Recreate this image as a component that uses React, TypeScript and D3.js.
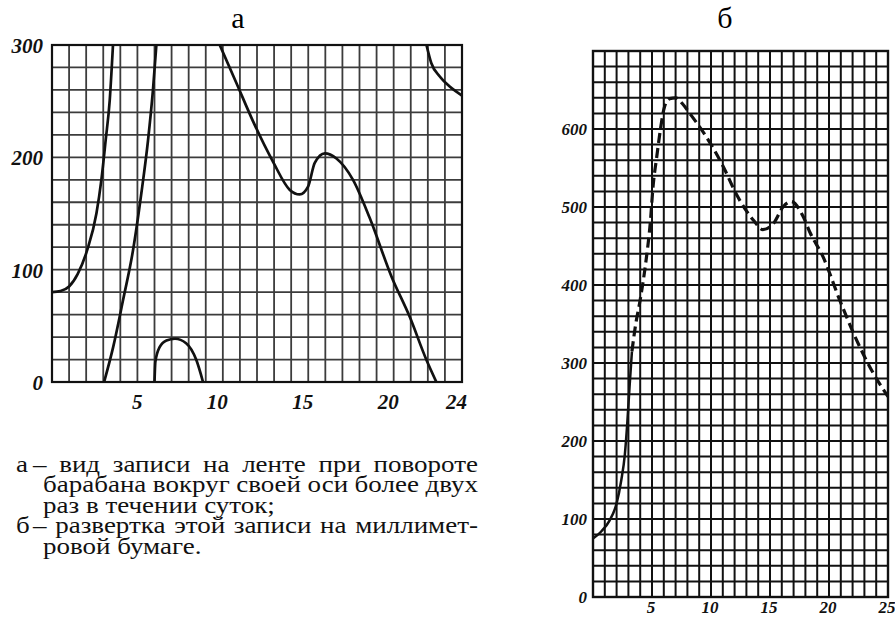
import React, { useMemo } from 'react';
import * as d3 from 'd3';

// а: запись на ленте (значения по модулю 300), отдельные куски линии
const tapePart1 = [[0, 80], [0.5, 81], [1, 85], [1.5, 96], [2.05, 117], [2.6, 150], [2.89, 180], [3.14, 215], [3.38, 251], [3.57, 300]];
const tapePart2 = [[3.05, 0], [3.58, 31], [4.16, 73], [4.74, 117], [5.23, 168], [5.62, 215], [5.91, 260], [6.11, 300]];
const tapePart3 = [[6.0, 0], [6.05, 18], [6.3, 31], [6.7, 37], [7.2, 38.5], [7.85, 34.5], [8.45, 19.5], [8.84, 0]];
const tapePart4 = [[9.82, 300], [10.8, 266], [11.77, 232], [12.94, 196], [13.92, 171], [14.5, 167], [14.99, 174], [15.38, 195], [15.97, 203.5], [16.65, 199], [17.62, 180], [18.6, 146], [19.87, 94], [20.94, 58], [21.92, 19.6], [22.5, 0]];
const tapePart5 = [[21.92, 300], [22.2, 284], [22.7, 272], [23.28, 263], [24, 255]];
const tapeParts = [tapePart1, tapePart2, tapePart3, tapePart4, tapePart5];

// б: развертка на миллиметровой бумаге
const sweepHours = [0, 0.7, 1.4, 2, 2.4, 2.7, 2.9, 3.1, 3.3, 3.6, 4, 4.5, 4.85, 5.1, 5.4, 5.7, 6.05, 6.5, 7, 7.6, 8.2, 9.6, 11, 12.2, 13.6, 14.4, 15.3, 16.1, 16.8, 17.8, 18.4, 19.5, 20.9, 22.35, 23.75, 25];
const sweepValues = [75, 84, 98, 120, 150, 183, 222, 270, 315, 348, 381, 432, 479, 528, 564, 598, 628, 639, 640, 632, 620, 590, 553, 515, 483, 471, 479, 500, 507, 488, 467, 436, 381, 329, 287, 257];
const solidUntil = 3.3;

const tapeXTicks = [5, 10, 15, 20, 24];
const tapeYTicks = [0, 100, 200, 300];
const sweepXTicks = [5, 10, 15, 20, 25];
const sweepYTicks = [0, 100, 200, 300, 400, 500, 600];

const captionA = ['– вид записи на ленте при повороте', 'барабана вокруг своей оси более двух', 'раз в течении суток;'];
const captionB = ['– развертка этой записи на миллимет-', 'ровой бумаге.'];

const SERIF = "'Liberation Serif'";
const CAP_SIZE = 27;
const CAP_SQUASH = 0.88;

const xA = d3.scaleLinear().domain([0, 24]).range([52, 462]);
const yA = d3.scaleLinear().domain([0, 300]).range([382, 45]);
const xB = d3.scaleLinear().domain([0, 25]).range([593, 888]);
const yB = d3.scaleLinear().domain([0, 700]).range([597, 51]);

const Panel = ({ x, y, xGrid, yGrid, gridColor, gridWidth, labelSize, xTicks, yTicks, xLabelY, yLabelX, xAnchor, xDx, yDy, clipId, children }) => {
  const [x0, x1] = x.range();
  const [y0, y1] = y.range();
  const lab = { fontFamily: SERIF, fontWeight: 'bold', fontStyle: 'italic', fontSize: labelSize };
  return (
    <g>
      <clipPath id={clipId}><rect x={x0} y={y1} width={x1 - x0} height={y0 - y1} /></clipPath>
      {xGrid.map(d => <line key={'v' + d} x1={x(d)} x2={x(d)} y1={y0} y2={y1} stroke={gridColor} strokeWidth={gridWidth} />)}
      {yGrid.map(d => <line key={'h' + d} x1={x0} x2={x1} y1={y(d)} y2={y(d)} stroke={gridColor} strokeWidth={gridWidth} />)}
      <rect x={x0} y={y1} width={x1 - x0} height={y0 - y1} fill="none" stroke="#111" strokeWidth={gridWidth + 0.4} />
      {xTicks.map(d => <text key={'xl' + d} x={x(d) + xDx} y={xLabelY} textAnchor={xAnchor} fill="#111" style={lab}>{d}</text>)}
      {yTicks.map(d => <text key={'yl' + d} x={yLabelX} y={y(d) + yDy} textAnchor="end" fill="#111" style={lab}>{d}</text>)}
      <g clipPath={`url(#${clipId})`}>{children}</g>
    </g>
  );
};

const App = () => {
  const lineA = d3.line().x(d => xA(d[0])).y(d => yA(d[1])).curve(d3.curveMonotoneX);
  const lineB = d3.line().x(d => xB(d[0])).y(d => yB(d[1])).curve(d3.curveMonotoneX);
  const sweep = sweepHours.map((h, i) => [h, sweepValues[i]]);
  const solid = sweep.filter(d => d[0] <= solidUntil);
  const dashed = sweep.filter(d => d[0] >= solid[solid.length - 1][0]);

  // caption layout: justified lines measured on a canvas
  const captionWords = useMemo(() => {
    const ctx = document.createElement('canvas').getContext('2d');
    ctx.font = `${CAP_SIZE}px ${SERIF}`;
    const space = ctx.measureText(' ').width;
    const rightEdge = 478;
    const firstBase = 472;
    const step = 20.4;
    const out = [];
    let row = 0;
    [{ mark: 'а', lines: captionA }, { mark: 'б', lines: captionB }].forEach(b => {
      out.push({ t: b.mark, x: 16, y: firstBase + row * step });
      b.lines.forEach((l, i) => {
        const words = l.split(' ');
        const widths = words.map(w => ctx.measureText(w).width);
        const xStart = i === 0 ? 33 : 43;
        const last = i === b.lines.length - 1;
        const gap = last ? space : (rightEdge - xStart - d3.sum(widths)) / (words.length - 1);
        let cx = xStart;
        words.forEach((w, k) => { out.push({ t: w, x: cx, y: firstBase + row * step }); cx += widths[k] + gap; });
        row += 1;
      });
    });
    return out;
  }, []);

  return (
    <svg width={895} height={617} style={{ position: 'absolute', left: 0, top: 0, background: '#fff' }}>
      <Panel x={xA} y={yA} xGrid={d3.range(0, 25)} yGrid={d3.range(0, 301, 20)}
        gridColor="#3c3c3c" gridWidth={1.8} labelSize={21}
        xTicks={tapeXTicks} yTicks={tapeYTicks} xLabelY={409} yLabelX={43}
        xAnchor="end" xDx={5} yDy={8} clipId="clipA">
        {tapeParts.map((p, i) => <path key={i} d={lineA(p)} fill="none" stroke="#111" strokeWidth={2.7} />)}
      </Panel>

      <Panel x={xB} y={yB} xGrid={d3.range(0, 26)} yGrid={d3.range(0, 701, 20)}
        gridColor="#111" gridWidth={2} labelSize={17}
        xTicks={sweepXTicks} yTicks={sweepYTicks} xLabelY={613} yLabelX={587}
        xAnchor="middle" xDx={-1} yDy={6} clipId="clipB">
        <path d={lineB(solid)} fill="none" stroke="#111" strokeWidth={2.5} />
        <path d={lineB(dashed)} fill="none" stroke="#111" strokeWidth={3.2} strokeDasharray="10,5" />
      </Panel>

      <text x={238} y={28} textAnchor="middle" style={{ fontFamily: SERIF, fontSize: 30 }}>а</text>
      <text x={725} y={28} textAnchor="middle" style={{ fontFamily: SERIF, fontSize: 30 }}>б</text>

      <g fill="#111" style={{ fontFamily: SERIF, fontSize: CAP_SIZE }}>
        {captionWords.map((w, i) => (
          <text key={i} x={w.x} y={w.y} transform={`translate(0,${w.y * (1 - CAP_SQUASH)}) scale(1,${CAP_SQUASH})`}>{w.t}</text>
        ))}
      </g>
    </svg>
  );
};

export default App;
